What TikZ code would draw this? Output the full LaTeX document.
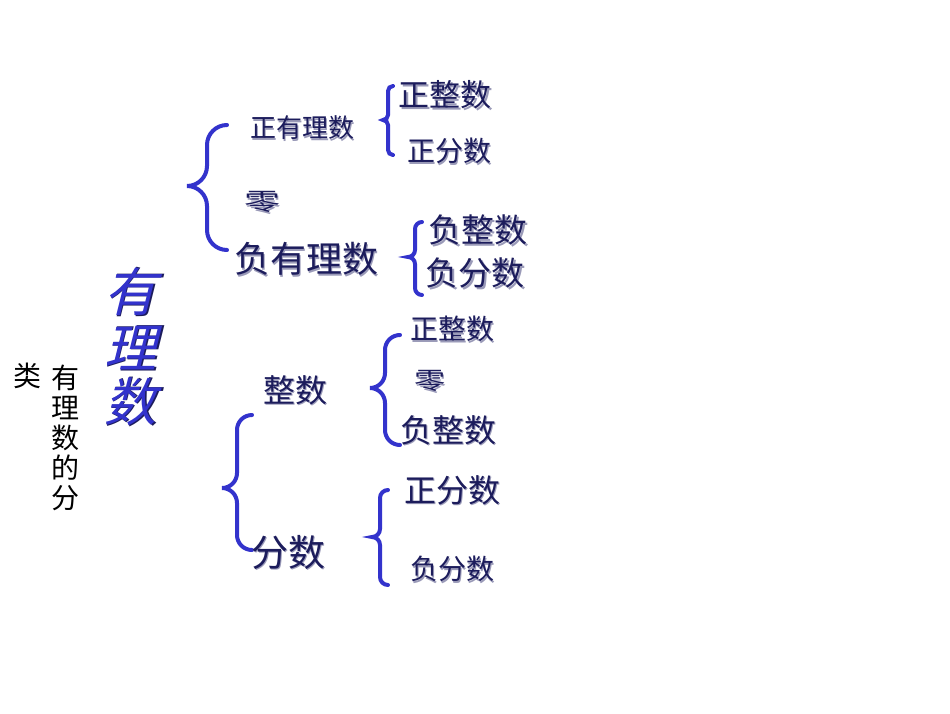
\documentclass[tikz,border=0pt]{standalone}
\usepackage{fontspec}
\setmainfont{Noto Sans CJK SC}
\newfontfamily\cjk{Noto Sans CJK SC}
\definecolor{navy}{HTML}{1C1C5C}
\definecolor{bblue}{HTML}{3333CC}
\definecolor{shad}{HTML}{9A9AB8}
\newcommand\mybrace[5]{% x, ytop, ymid, ybot, w
 \draw[bracestyle] (#1+#5,#2) to[out=180,in=90] (#1,#2+#5) -- (#1,#3-#5) to[out=-90,in=0] (#1-#5,#3)
   to[out=0,in=90] (#1,#3+#5) -- (#1,#4-#5) to[out=-90,in=180] (#1+#5,#4);}
\newcommand\lbl[5][]{% opts, name, pos, size, text
 \node[lab,text=shad,font=\cjk\fontsize{#4}{#4}\selectfont,#1] at ([shift={(1.5,1.5)}]#3) {#5};
 \node[lab,text=navy,font=\cjk\fontsize{#4}{#4}\selectfont,#1] (#2) at (#3) {#5};}
\tikzset{bracestyle/.style={draw=bblue,line width=4pt,line cap=round},
 lab/.style={inner sep=0pt,anchor=center}}
\begin{document}
\begin{tikzpicture}[x=1pt,y=-1pt]
\useasboundingbox (0,0) rectangle (950,713);
\mybrace{207}{125}{186}{250}{20}
\mybrace{388}{86}{120}{155}{5}
\mybrace{415}{222}{257}{295}{7}
\mybrace{385}{335}{388}{445}{15}
\mybrace{237}{415}{488}{550}{15}
\mybrace{380}{490}{537}{585}{8}
\lbl{a1}{302,128}{26}{正有理数}
\lbl{a2}{445,95}{31}{正整数}
\lbl{a3}{449,151}{28}{正分数}
\lbl[xscale=1.5]{a4}{262,202}{24}{零}
\lbl{a5}{306,259}{36}{负有理数}
\lbl{a6}{478,230}{33}{负整数}
\lbl{a7}{475,273}{33}{负分数}
\lbl{b1}{452,329}{28}{正整数}
\lbl[xscale=1.3]{b2}{430,381}{24}{零}
\lbl{b3}{448,430}{32}{负整数}
\lbl{b4}{295,390}{32}{整数}
\lbl{b5}{452,490}{32}{正分数}
\lbl{b6}{288,552}{37}{分数}
\lbl{b7}{452,569}{28}{负分数}
\foreach \c/\y in {有/292,理/348,数/402}{
 \node[lab,text=navy,font=\cjk\fontsize{54}{54}\selectfont,xslant=0.25] at (137,\y) {\c};
 \node[lab,text=bblue,font=\cjk\fontsize{52}{52}\selectfont,xslant=0.25] at (135,\y) {\c};}
\node[lab,font=\cjk\fontsize{28}{28}\selectfont,align=center] (v) at (65,438) {有\\[2pt]理\\[2pt]数\\[2pt]的\\[2pt]分};
\node[lab,font=\cjk\fontsize{28}{28}\selectfont] (l) at (27,376) {类};
\end{tikzpicture}
\end{document}
